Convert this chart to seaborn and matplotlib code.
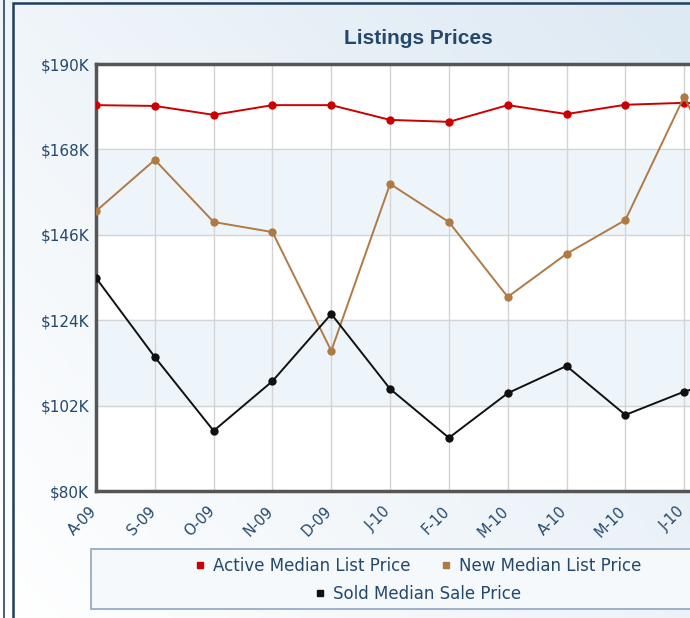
import numpy as np
import pandas as pd
import seaborn as sns
import matplotlib.pyplot as plt
from matplotlib.patches import Rectangle
from matplotlib.lines import Line2D
from matplotlib.transforms import ScaledTranslation

months = ["A-09", "S-09", "O-09", "N-09", "D-09", "J-10", "F-10",
          "M-10", "A-10", "M-10", "J-10", "J-10"]
active_list = [179.4, 179.2, 176.9, 179.4, 179.4, 175.6, 175.1,
               179.4, 177.1, 179.5, 180.0, 179.0]
new_list = [152.1, 165.3, 149.3, 146.7, 116.1, 159.1, 149.3,
            130.0, 141.1, 149.8, 181.6, 150.0]
sold_sale = [134.9, 114.5, 95.5, 108.3, 125.6, 106.3, 93.7,
             105.2, 112.2, 99.6, 105.6, 110.0]
y_ticks = [80, 102, 124, 146, 168, 190]

df = pd.DataFrame({
    "idx": list(range(len(months))) * 3,
    "value": active_list + new_list + sold_sale,
    "series": (["Active Median List Price"] * len(months)
               + ["New Median List Price"] * len(months)
               + ["Sold Median Sale Price"] * len(months)),
})
colors = {"Active Median List Price": "#cc0000",
          "New Median List Price": "#b07a45",
          "Sold Median Sale Price": "#111111"}

sns.set_style("white")
plt.rcParams["font.family"] = ["DejaVu Sans"]
navy = "#24486c"

fig = plt.figure(figsize=(6.9, 6.18), dpi=100)

# background gradient
bg = fig.add_axes([0, 0, 1, 1], zorder=-10)
gx, gy = np.meshgrid(np.linspace(0, 1, 200), np.linspace(0, 1, 200))
grad = np.clip(0.55 * gx + 0.45 * (1 - gy), 0, 1)
bg.imshow(grad, cmap=sns.blend_palette(["#ffffff", "#dde9f3"], as_cmap=True),
          aspect="auto", extent=[0, 1, 0, 1], origin="upper")
bg.set_xlim(0, 1)
bg.set_ylim(0, 1)
bg.axis("off")
fig.add_artist(Line2D([4 / 690, 4 / 690], [0, 1], color="#2a4560", lw=1.2))
fig.add_artist(Rectangle((12.5 / 690, -0.1), 1.2, 1.1 - 3.5 / 618,
                         fill=False, edgecolor="#1f3f5c", lw=1.8))

ax = fig.add_axes([96 / 690, 1 - 491 / 618, 647 / 690, 427 / 618])
ax.set_facecolor("white")
for lo, hi in [(102, 124), (146, 168)]:
    ax.axhspan(lo, hi, color="#eef5fa", zorder=0)

sns.lineplot(data=df, x="idx", y="value", hue="series", palette=colors,
             marker="o", markersize=6, markeredgewidth=0, linewidth=1.4,
             legend=False, ax=ax, zorder=3)

ax.set_xlim(0, len(months) - 1)
ax.set_ylim(80, 190)
ax.set_yticks(y_ticks)
ax.set_yticklabels([f"${v}K" for v in y_ticks], color=navy, fontsize=11)
ax.set_xticks(range(len(months)))
ax.set_xticklabels(months, rotation=45, ha="right", rotation_mode="anchor",
                   color=navy, fontsize=10.5)
ax.tick_params(axis="x", length=0, pad=9)
ax.tick_params(axis="y", length=0, pad=5)
# nudge the slanted month labels left so they end at their tick
shift = ScaledTranslation(-5 / 72, 0, fig.dpi_scale_trans)
for lab in ax.get_xticklabels():
    lab.set_transform(lab.get_transform() + shift)
ax.get_xticklabels()[-1].set_visible(False)  # falls past the cropped edge
ax.grid(True, color="#d4d4d4", lw=1)
ax.set_axisbelow(True)
for s in ["left", "bottom", "top"]:
    ax.spines[s].set_color("#555555")
    ax.spines[s].set_linewidth(2.5)
ax.spines["right"].set_visible(False)
ax.set_xlabel("")
ax.set_ylabel("")

fig.text(418 / 690, 1 - 38 / 618, "Listings Prices", ha="center", va="center",
         fontsize=15, fontweight="bold", color=navy,
         family=["Liberation Sans", "DejaVu Sans"])

# legend
fig.add_artist(Rectangle((91 / 690, 1 - 609 / 618), 700 / 690, 60 / 618,
                         facecolor="#f5f9fc", edgecolor="#8fa6bc", lw=1.2))
h = [Line2D([], [], ls="", marker="s", markersize=5, color=colors[k])
     for k in colors]
fig.legend(h[:2], list(colors)[:2], ncol=2, loc="center",
           bbox_to_anchor=(418 / 690, 1 - 566 / 618), frameon=False,
           handlelength=0.6, handletextpad=0.5, columnspacing=1.8,
           fontsize=12, labelcolor=navy)
fig.legend(h[2:], list(colors)[2:], loc="center",
           bbox_to_anchor=(418 / 690, 1 - 594 / 618), frameon=False,
           handlelength=0.6, handletextpad=0.5, fontsize=12, labelcolor=navy)

plt.savefig("out.png", dpi=100)
